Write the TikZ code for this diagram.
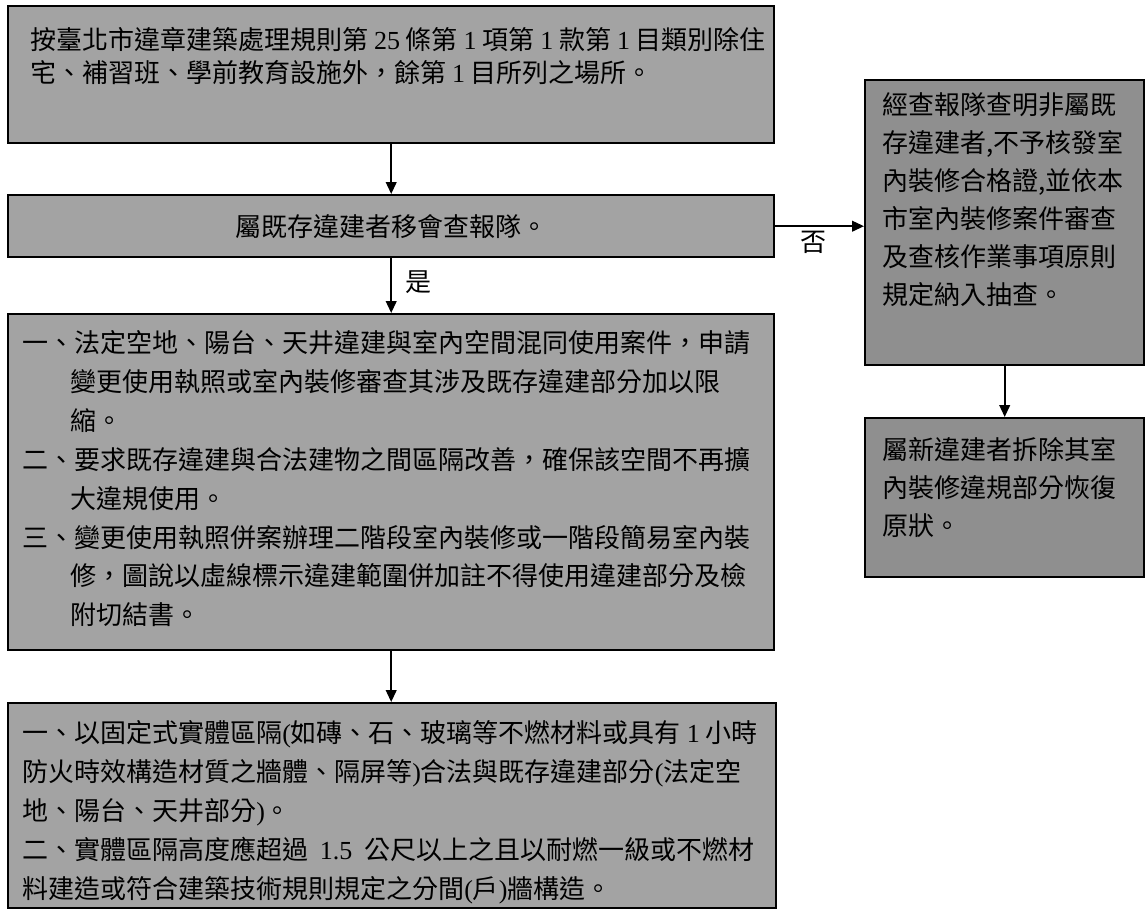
\documentclass[tikz,border=0pt]{standalone}
\usepackage{fontspec}
\setmainfont{Noto Sans CJK TC}
\newfontfamily\latn{Liberation Serif}
\usetikzlibrary{arrows.meta}
\newcommand{\dg}[1]{{\latn #1}}
\begin{document}
\begin{tikzpicture}[x=0.75pt,y=-0.75pt,
  leftbox/.style={draw=black,line width=1.8pt,fill=black!36,rectangle,inner sep=0pt,anchor=north west},
  rightbox/.style={draw=black,line width=1.8pt,fill=black!44,rectangle,inner sep=0pt,anchor=north west},
  txt/.style={inner sep=0pt,align=left,anchor=north west,font=\fontsize{19.5pt}{29.2pt}\selectfont},
  lbl/.style={inner sep=0pt,font=\fontsize{19.5pt}{24pt}\selectfont},
  arr/.style={line width=1.5pt,-{Triangle[length=9pt,width=8pt]}}]
\useasboundingbox (0,0) rectangle (1145,910);
\fill[white] (0,0) rectangle (1145,910);
% boxes
\node[leftbox,minimum width=574.5pt,minimum height=102.75pt] (b1) at (7,5) {};
\node[leftbox,minimum width=574.5pt,minimum height=46.5pt] (b2) at (7,194) {};
\node[leftbox,minimum width=574.5pt,minimum height=252pt] (b3) at (7,313) {};
\node[leftbox,minimum width=576pt,minimum height=153.75pt] (b4) at (7,702) {};
\node[rightbox,minimum width=209.25pt,minimum height=213.75pt] (b5) at (864,79) {};
\node[rightbox,minimum width=209.25pt,minimum height=119.25pt] (b6) at (864,417) {};
% texts
\node[txt,font=\fontsize{19.5pt}{24.5pt}\selectfont] (t1) at (30,27) {按臺北市違章建築處理規則第 \dg{25} 條第 \dg{1} 項第 \dg{1} 款第 \dg{1} 目類別除住\\宅、補習班、學前教育設施外，餘第 \dg{1} 目所列之場所。};
\node[lbl] (t2) at (b2.center) {屬既存違建者移會查報隊。};
\node[txt] (t3) at (22,330) {一、法定空地、陽台、天井違建與室內空間混同使用案件，申請\\
\hspace*{36pt}變更使用執照或室內裝修審查其涉及既存違建部分加以限\\
\hspace*{36pt}縮。\\
二、要求既存違建與合法建物之間區隔改善，確保該空間不再擴\\
\hspace*{36pt}大違規使用。\\
三、變更使用執照併案辦理二階段室內裝修或一階段簡易室內裝\\
\hspace*{36pt}修，圖說以虛線標示違建範圍併加註不得使用違建部分及檢\\
\hspace*{36pt}附切結書。};
\node[txt] (t4) at (22,720) {一、以固定式實體區隔\dg{(}如磚、石、玻璃等不燃材料或具有 \dg{1} 小時\\
防火時效構造材質之牆體、隔屏等\dg{)}合法與既存違建部分\dg{(}法定空\\
地、陽台、天井部分\dg{)}。\\
二、實體區隔高度應超過 \ \dg{1.5} \ 公尺以上之且以耐燃一級或不燃材\\
料建造或符合建築技術規則規定之分間\dg{(}戶\dg{)}牆構造。};
\node[txt,font=\fontsize{19.5pt}{28.5pt}\selectfont] (t5) at (882,92) {經查報隊查明非屬既\\存違建者,不予核發室\\內裝修合格證,並依本\\市室內裝修案件審查\\及查核作業事項原則\\規定納入抽查。};
\node[txt,font=\fontsize{19.5pt}{28.5pt}\selectfont] (t6) at (882,437) {屬新違建者拆除其室\\內裝修違規部分恢復\\原狀。};
% connectors
\draw[arr] (b1.south) -- (b2.north);
\draw[arr] (b2.south) -- (b3.north);
\draw[arr] (b3.south) -- (b3.south |- b4.north);
\draw[arr] (b5.south) -- (b6.north);
\draw[arr] (b2.east) -- (b2.east -| b5.west);
\node[lbl] (yes) at (418,282) {是};
\node[lbl] (no) at (813,242) {否};
\end{tikzpicture}
\end{document}
